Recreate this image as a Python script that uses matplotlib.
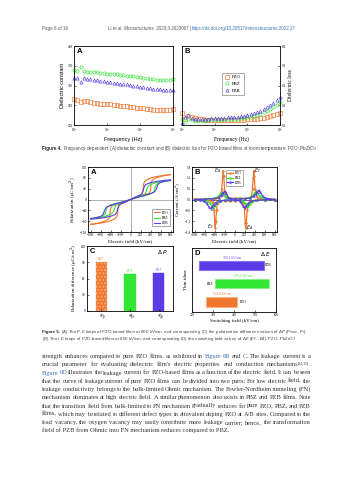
import matplotlib
matplotlib.use('Agg')
import matplotlib.pyplot as plt
import numpy as np

# ---------------- data ----------------
materials = ["PZO", "PBZ", "PZB"]
freq = [100, 126, 158, 200, 251, 316, 398, 501, 631, 794, 1000, 1259, 1585, 1995, 2512,
        3162, 3981, 5012, 6310, 7943, 10000, 12589, 15849, 19953, 25119, 31623, 39811,
        50119, 63096, 79433, 100000]
eps_pzo = [267, 263, 259, 260, 262, 258, 256, 255, 254, 254, 253, 252, 251, 250, 249, 248,
           247, 246, 245, 244, 243, 242, 241, 240, 239, 239, 238, 238, 238, 239, 241]
eps_pbz = [339, 337, 346, 336, 335, 334, 334, 333, 332, 331, 330, 330, 329, 328, 327, 326,
           325, 324, 323, 322, 321, 320, 318, 317, 316, 315, 314, 314, 314, 315, 317]
eps_pzb = [320, 318, 309, 318, 317, 316, 315, 313, 312, 311, 310, 309, 307, 306, 305, 304,
           303, 301, 300, 298, 297, 295, 294, 293, 292, 291, 290, 289, 288, 288, 289]
loss_pzo = [0.06, 0.03, 0.045, 0.04, 0.035, 0.03, 0.028, 0.027, 0.026, 0.025, 0.025, 0.025,
            0.025, 0.025, 0.025, 0.025, 0.025, 0.026, 0.026, 0.027, 0.028, 0.029, 0.03, 0.032,
            0.034, 0.037, 0.04, 0.044, 0.049, 0.054, 0.06]
loss_pbz = [0.03, 0.015, 0.03, 0.025, 0.022, 0.022, 0.022, 0.022, 0.023, 0.023, 0.024, 0.025,
            0.026, 0.027, 0.028, 0.029, 0.03, 0.032, 0.034, 0.036, 0.039, 0.043, 0.047, 0.052,
            0.058, 0.065, 0.073, 0.082, 0.092, 0.103, 0.115]
loss_pzb = [0.01, 0.04, 0.05, 0.035, 0.03, 0.03, 0.03, 0.031, 0.032, 0.033, 0.034, 0.035,
            0.036, 0.037, 0.038, 0.039, 0.041, 0.043, 0.045, 0.048, 0.051, 0.055, 0.06, 0.066,
            0.073, 0.081, 0.09, 0.1, 0.112, 0.125, 0.14]

# P-E loops: ascending branch (field swept -800 -> 800); descending branch is its point reflection
pe_E_pzo = [-800, -700, -600, -500, -400, -320, -280, -260, -250, -240, -200, -100, 0, 100, 200,
            300, 380, 400, 410, 420, 440, 500, 600, 700, 800]
pe_P_pzo = [-92, -90, -87, -84, -79, -72, -66, -55, -35, -22, -17, -9, 0, 6, 12, 18, 24, 35, 55,
            66, 72, 79, 85, 89, 92]
pe_E_pbz = [-800, -700, -600, -500, -400, -350, -320, -300, -250, -200, -100, 0, 100, 200, 300,
            400, 450, 480, 500, 520, 560, 600, 700, 800]
pe_P_pbz = [-70, -68, -66, -62, -55, -48, -35, -22, -17, -14, -7, 0, 6, 11, 15, 20, 25, 35, 48,
            55, 60, 63, 67, 70]
pe_E_pzb = [-800, -700, -600, -500, -400, -300, -270, -250, -220, -200, -100, 0, 100, 200, 300,
            400, 480, 520, 540, 560, 600, 700, 800]
pe_P_pzb = [-72, -71, -69, -66, -62, -55, -45, -30, -20, -17, -9, 0, 6, 11, 16, 22, 28, 40, 52,
            58, 63, 68, 72]

# I-E loops: ascending branch; descending branch is its point reflection
ie_E_pzo = [-800, -600, -400, -320, -280, -255, -235, -225, -215, -195, -170, -100, 0, 100, 200,
            300, 340, 360, 375, 385, 395, 410, 440, 500, 600, 800]
ie_I_pzo = [0.02, 0.03, 0.05, 0.08, 0.2, 0.6, 1.3, 1.6, 1.3, 0.4, 0.12, 0.06, 0.07, 0.08, 0.06,
            0.08, 0.2, 0.6, 1.2, 1.6, 1.3, 0.6, 0.15, 0.05, 0.03, 0.02]
ie_E_pbz = [-800, -600, -450, -350, -300, -270, -250, -230, -200, -150, -100, 0, 100, 200, 300,
            360, 400, 430, 460, 500, 560, 650, 800]
ie_I_pbz = [0.0, 0.02, 0.05, 0.12, 0.25, 0.36, 0.4, 0.34, 0.18, 0.08, 0.05, 0.04, 0.04, 0.05, 0.1,
            0.22, 0.36, 0.45, 0.36, 0.18, 0.07, 0.03, 0.0]
ie_E_pzb = [-800, -600, -450, -320, -260, -230, -200, -170, -130, -100, 0, 100, 200, 300, 380,
            420, 450, 480, 510, 560, 620, 700, 800]
ie_I_pzb = [0.0, 0.02, 0.04, 0.1, 0.25, 0.38, 0.45, 0.36, 0.15, 0.06, 0.03, 0.03, 0.04, 0.08, 0.18,
            0.3, 0.42, 0.5, 0.42, 0.2, 0.08, 0.03, 0.0]

delta_P = [89.7, 67.9, 69.7]
switch_start = [268.1, 311.9, 235.0]   # E_A
delta_E = [145.9, 256.1, 306.1]        # E_F - E_A

# ---------------- style ----------------
c_pzo = '#F0772E'
c_pbz = '#33E633'
c_pzb = '#5B3BE6'
cols = [c_pzo, c_pbz, c_pzb]
W, H = 353, 480
SERIF = 'Liberation Serif'
SANS = 'Liberation Sans'
tick_fs = 2.4
lab_fs = 3.6

fig = plt.figure(figsize=(W / 100, H / 100), dpi=100)
renderer = fig.canvas.get_renderer()


def rect(x0, y0, x1, y1):
    return [x0 / W, 1 - y1 / H, (x1 - x0) / W, (y1 - y0) / H]


def style_ax(ax, lw=0.6):
    for s in ax.spines.values():
        s.set_linewidth(lw)
    ax.tick_params(direction='in', length=1.2, width=0.4, labelsize=tick_fs, pad=1)
    for t in ax.get_xticklabels() + ax.get_yticklabels():
        t.set_fontfamily(SERIF)


def panel_letter(ax, s):
    ax.text(0.03, 0.97, s, transform=ax.transAxes, ha='left', va='top',
            fontsize=5.5, fontweight='bold', family=SANS)


# ---------------- Figure 4 A ----------------
axA = fig.add_axes(rect(74, 46, 173, 125))
mk = dict(ms=2.3, mew=0.45, mfc='none', ls='none', clip_on=False)
axA.plot(freq, eps_pbz, 'o', mec=c_pbz, **mk)
axA.plot(freq, eps_pzb, '^', mec=c_pzb, **mk)
axA.plot(freq, eps_pzo, 's', mec=c_pzo, **mk)
axA.set_xscale('log')
axA.set_xlim(100, 1e5)
axA.set_ylim(200, 400)
axA.set_yticks([200, 250, 300, 350, 400])
axA.set_xticks([1e2, 1e3, 1e4, 1e5])
axA.minorticks_off()
style_ax(axA)
axA.set_xlabel('Frequency (Hz)', fontsize=lab_fs + 0.4, family=SANS, labelpad=2)
axA.set_ylabel('Dielectric constant', fontsize=lab_fs + 0.4, family=SANS, labelpad=2)
panel_letter(axA, 'A')

# ---------------- Figure 4 B ----------------
axB = fig.add_axes(rect(182, 46, 280, 125))
axB.plot(freq, loss_pzo, 's', mec=c_pzo, label='PZO', **mk)
axB.plot(freq, loss_pbz, 'o', mec=c_pbz, label='PBZ', **mk)
axB.plot(freq, loss_pzb, '^', mec=c_pzb, label='PZB', **mk)
axB.set_xscale('log')
axB.set_xlim(100, 1e5)
axB.set_ylim(0, 0.4)
axB.set_yticks([0.0, 0.1, 0.2, 0.3, 0.4])
axB.set_xticks([1e2, 1e3, 1e4, 1e5])
axB.minorticks_off()
axB.yaxis.tick_right()
axB.yaxis.set_label_position('right')
style_ax(axB)
axB.set_xlabel('Frequency (Hz)', fontsize=lab_fs + 0.4, family=SERIF, labelpad=2)
axB.set_ylabel('Dielectric loss', fontsize=lab_fs + 0.4, family=SERIF, labelpad=2)
panel_letter(axB, 'B')
lg = axB.legend(loc='center', bbox_to_anchor=(0.52, 0.52), prop={'family': SERIF, 'size': 3.4},
                frameon=True, fancybox=False, edgecolor='#444', handlelength=1.0,
                borderpad=0.5, labelspacing=0.5, handletextpad=0.6)
lg.get_frame().set_linewidth(0.4)

# ---------------- Figure 5 A ----------------
ax5a = fig.add_axes(rect(88, 167, 173, 232))
ax5a.axhline(0, color='#777', lw=0.4)
ax5a.axvline(0, color='#777', lw=0.4)
for E, P, c, n in [(pe_E_pzo, pe_P_pzo, c_pzo, 'PZO'), (pe_E_pbz, pe_P_pbz, c_pbz, 'PBZ'),
                   (pe_E_pzb, pe_P_pzb, c_pzb, 'PZB')]:
    E = np.array(E, float); P = np.array(P, float)
    ax5a.plot(E, P, color=c, lw=0.8, label=n)
    ax5a.plot(-E, -P, color=c, lw=0.8)
ax5a.set_xlim(-850, 850)
ax5a.set_ylim(-120, 120)
ax5a.set_xticks(range(-800, 801, 200))
ax5a.set_yticks(range(-120, 121, 40))
style_ax(ax5a)
ax5a.set_xlabel('Electric field (kV/cm)', fontsize=lab_fs, family=SERIF, labelpad=1.5)
ax5a.set_ylabel('Polarization (\u03bcC/cm$^2$)', fontsize=lab_fs, family=SERIF, labelpad=1)
panel_letter(ax5a, 'A')
lg = ax5a.legend(loc='lower right', bbox_to_anchor=(0.99, 0.06), prop={'family': SERIF, 'size': 2.6},
                 frameon=True, fancybox=False, edgecolor='#444', handlelength=1.8,
                 borderpad=0.4, labelspacing=0.3, handletextpad=0.5)
lg.get_frame().set_linewidth(0.4)

# ---------------- Figure 5 B ----------------
ax5b = fig.add_axes(rect(192, 167, 277, 232))
ax5b.axhline(0, color='#222', lw=0.5)
for E, I, c, n, m in [(ie_E_pzo, ie_I_pzo, c_pzo, 'PZO', 'o'), (ie_E_pbz, ie_I_pbz, c_pbz, 'PBZ', 'o'),
                      (ie_E_pzb, ie_I_pzb, c_pzb, 'PZB', '^')]:
    E = np.array(E, float); I = np.array(I, float)
    ax5b.plot(E, I, color=c, lw=0.9, marker=m, ms=1.3, mew=0.3, label=n)
    ax5b.plot(-E, -I, color=c, lw=0.9, marker=m, ms=1.3, mew=0.3)
ax5b.set_xlim(-850, 850)
ax5b.set_ylim(-1.8, 1.8)
ax5b.set_xticks(range(-800, 801, 200))
ax5b.set_yticks([-1.8, -1.2, -0.6, 0.0, 0.6, 1.2, 1.8])
style_ax(ax5b)
ax5b.set_xlabel('Electric field (kV/cm)', fontsize=lab_fs, family=SERIF, labelpad=1.5)
ax5b.set_ylabel('Current (A/cm$^2$)', fontsize=lab_fs, family=SERIF, labelpad=1)
panel_letter(ax5b, 'B')
lg = ax5b.legend(loc='upper center', bbox_to_anchor=(0.5, 0.98), prop={'family': SERIF, 'size': 2.6},
                 frameon=True, fancybox=False, edgecolor='#444', handlelength=1.8,
                 borderpad=0.3, labelspacing=0.2, handletextpad=0.5)
lg.get_frame().set_linewidth(0.4)
for x, y, s in [(-330, 1.6, '$E_A$'), (450, 1.6, '$E_F$'), (-480, -1.5, '$E_F$'), (300, -1.55, '$E_A$')]:
    ax5b.text(x, y, s, fontsize=3.4, ha='center', va='center', color='#222')

# ---------------- Figure 5 C ----------------
ax5c = fig.add_axes(rect(87, 246, 173, 311))
xpos = np.arange(len(materials))
bars = ax5c.bar(xpos, delta_P, width=0.4, color=cols, edgecolor=cols, lw=0.3)
bars[0].set_hatch('.....')
bars[0].set_edgecolor('#F8A878')
for x, v, c in zip(xpos, delta_P, cols):
    ax5c.text(x, v + 3, f'{v}', ha='center', va='bottom', fontsize=2.6, color=c, family=SERIF)
ax5c.set_xlim(-0.5, 2.5)
ax5c.set_ylim(0, 120)
ax5c.set_yticks([0, 30, 60, 90, 120])
ax5c.set_xticks(xpos)
ax5c.set_xticklabels(materials, rotation=-45, ha='left', rotation_mode='anchor')
style_ax(ax5c)
ax5c.set_ylabel('Polarization difference (\u03bcC/cm$^2$)', fontsize=lab_fs, family=SERIF, labelpad=1)
panel_letter(ax5c, 'C')
ax5c.text(0.95, 0.9, r'$\Delta\ P$', transform=ax5c.transAxes, ha='right', va='center', fontsize=4.2,
          fontweight='bold')

# ---------------- Figure 5 D ----------------
ax5d = fig.add_axes(rect(192, 248, 276, 312))
ypos = [1, 2, 3]
ax5d.barh(ypos, delta_E, left=switch_start, height=0.5, color=cols, edgecolor=['#F8B080', '#88F088', '#8870F0'],
          lw=0.8)
for y, a, d, c in zip(ypos, switch_start, delta_E, cols):
    ax5d.text(a + d / 2, y + 0.32, f'{d} kV/cm', ha='center', va='bottom', fontsize=2.4, color=c, family=SERIF)
ax5d.text(switch_start[0] + delta_E[0] + 15, 1, 'PZO', ha='left', va='center', fontsize=2.6, family=SERIF)
ax5d.text(switch_start[1] - 10, 2, 'PBZ', ha='right', va='center', fontsize=2.6, family=SERIF)
ax5d.text(switch_start[2] + delta_E[2] + 8, 3, 'PZB', ha='left', va='center', fontsize=2.6, family=SERIF)
ax5d.set_xlim(200, 600)
ax5d.set_ylim(0.45, 3.95)
ax5d.set_xticks([200, 300, 400, 500, 600])
ax5d.set_yticks([])
style_ax(ax5d)
ax5d.set_xlabel('Switching field (kV/cm)', fontsize=lab_fs, family=SERIF, labelpad=1.5)
ax5d.set_ylabel('Thin films', fontsize=lab_fs, family=SERIF, labelpad=3)
panel_letter(ax5d, 'D')
ax5d.text(0.95, 0.9, r'$\Delta\ E$', transform=ax5d.transAxes, ha='right', va='center', fontsize=4.2,
          fontweight='bold')

# ---------------- page text ----------------
BLUE = '#3B72B8'
DARK = '#333333'


def txt(x, y, s, st):
    return fig.text(x / W, 1 - (y - st.get('dy', 0)) / H, s, fontsize=st['size'], family=st['family'],
                    fontweight=st.get('weight', 'normal'), fontstyle=st.get('style', 'normal'),
                    color=st.get('color', DARK), ha='left', va='baseline')


def measure(s, st):
    t = txt(0, 0, s, st)
    w = t.get_window_extent(renderer).width
    t.remove()
    return w


def draw_runs(x, y, runs):
    """Place runs of text one after another (no justification)."""
    cx = x
    for s, st in runs:
        txt(cx, y, s, st)
        cx += measure(s.replace(' ', '\u00a0'), st)


def draw_justified(x, y, segs, width):
    words, cur = [], []
    for text, st in segs:
        parts = text.split(' ')
        for i, p in enumerate(parts):
            if i > 0 and cur:
                words.append(cur)
                cur = []
            if p:
                cur.append((p, st))
    if cur:
        words.append(cur)
    widths = [[measure(p, st) for p, st in w] for w in words]
    total = sum(sum(w) for w in widths)
    gap = (width - total) / max(len(words) - 1, 1)
    cx = x
    for w, ws in zip(words, widths):
        for (p, st), pw in zip(w, ws):
            txt(cx, y, p, st)
            cx += pw
        cx += gap


hdr = dict(size=3.25, family=SANS, color='#555555')
hdr_i = dict(hdr, style='italic')
hdr_l = dict(hdr, color=BLUE)
draw_runs(42, 30, [("Page 6 of 16", hdr)])
draw_runs(108, 30, [("Li et al. ", hdr), ("Microstructures", hdr_i), (" 2023;3:2023007 | ", hdr),
                    ("https://dx.doi.org/10.20517/microstructures.2022.27", hdr_l)])

cap = dict(size=3.3, family=SANS, color='#444444')
capb = dict(cap, weight='bold', color='#222222')
draw_runs(42, 150, [("Figure 4. ", capb), ("Frequency-dependent (A) dielectric constant and (B) dielectric loss for "
                                           "PZO-based films at room temperature. PZO: PbZrO$_3$", cap)])
cap5 = dict(cap, size=3.2)
cap5b = dict(capb, size=3.2)
draw_runs(42, 333, [("Figure 5. ", cap5b), ("(A) The P-E loops of PZO-based films at 800 kV/cm, and corresponding (C) "
                                            "the polarization difference values of $\\Delta P$ ($P_{max}$ - $P_r$).", cap5)])
draw_runs(42, 340, [("(B) The I-E loops of PZO-based films at 800 kV/cm, and corresponding (D) the switching field "
                     "values of $\\Delta E$ ($E_F$ - $E_A$). PZO: PbZrO$_3$", cap5)])

bt = dict(size=4.6, family=SERIF, color=DARK)
bl = dict(bt, color=BLUE)
bs = dict(bt, size=2.8, dy=1.7)
body = [
    [("strength enhances compared to pure PZO films, as exhibited in ", bt), ("Figure 6B", bl), (" and ", bt),
     ("C", bl), (". The leakage current is a", bt)],
    [("crucial parameter for evaluating dielectric film's electric properties and conduction mechanisms", bt),
     ("[34,35]", bs), (".", bt)],
    [("Figure 6D", bl), (" illustrates the leakage current for PZO-based films as a function of the electric field. "
                         "It can be seen", bt)],
    [("that the curve of leakage current of pure PZO films can be divided into two parts: For low electric field, the",
      bt)],
    [("leakage conductivity belongs to the bulk-limited Ohmic mechanism. The Fowler-Nordheim tunneling (FN)", bt)],
    [("mechanism dominates at high electric field. A similar phenomenon also exists in PBZ and PZB films. Note", bt)],
    [("that the transition field from bulk-limited to FN mechanism gradually reduces for pure PZO, PBZ, and PZB", bt)],
    [("films, which may be related to different defect types in aliovalent doping PZO at A/B sites. Compared to the",
      bt)],
    [("lead vacancy, the oxygen vacancy may easily contribute more leakage carrier; hence, the transformation", bt)],
]
last_line = "field of PZB from Ohmic into FN mechanism reduces compared to PBZ."
y0, dy = 358.0, 8.25
for i, segs in enumerate(body):
    draw_justified(42, y0 + i * dy, segs, 269)
txt(42, y0 + len(body) * dy, last_line, bt)

fig.savefig('out.png', dpi=100)
